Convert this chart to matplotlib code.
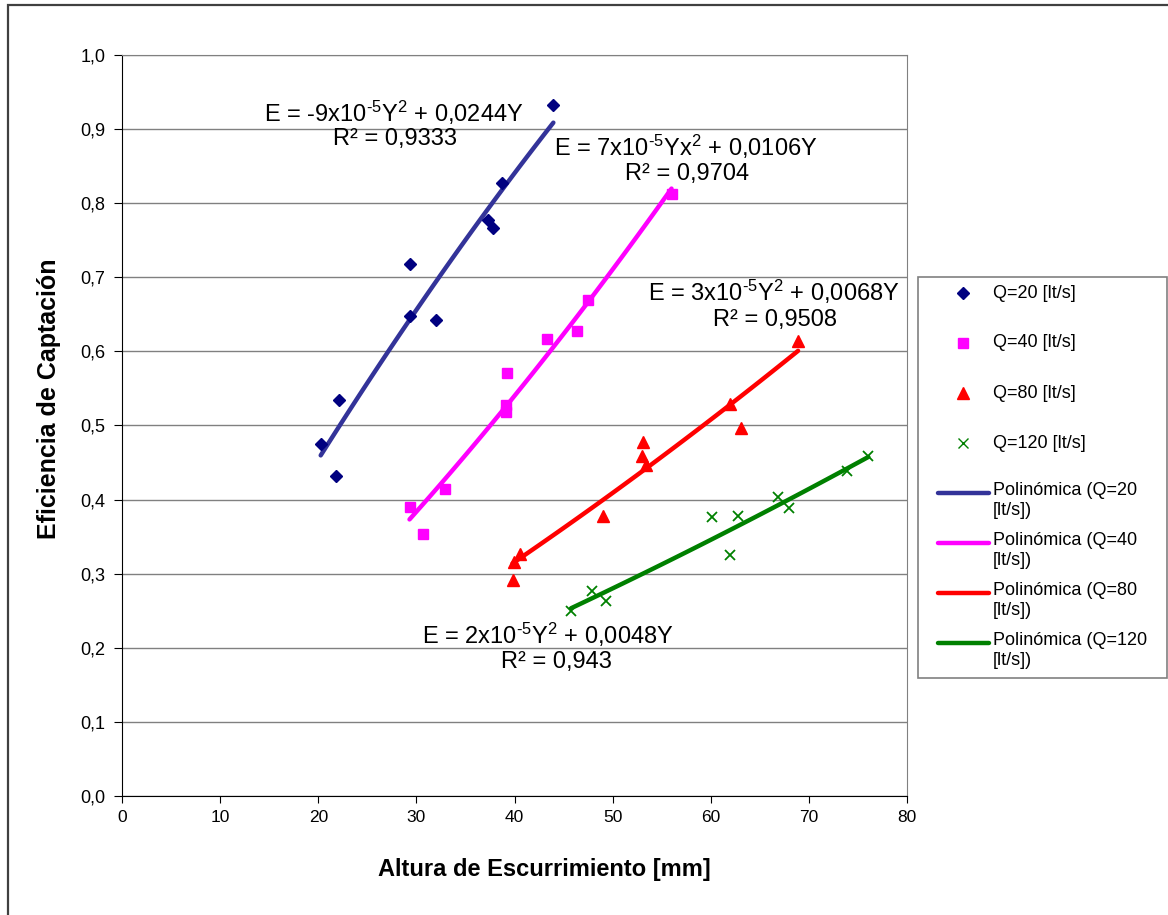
import numpy as np
import matplotlib
matplotlib.use("Agg")
import matplotlib.pyplot as plt
from matplotlib.lines import Line2D
from matplotlib.patches import Rectangle
from matplotlib.ticker import FuncFormatter, MultipleLocator

plt.rcParams['font.family'] = ['Liberation Sans', 'DejaVu Sans']
plt.rcParams['mathtext.fontset'] = 'custom'
plt.rcParams['mathtext.rm'] = 'Liberation Sans'
plt.rcParams['mathtext.default'] = 'regular'

# Altura de escurrimiento [mm] and captation efficiency, per flow
y20 = [20.25, 21.8, 22.15, 29.3, 29.35, 31.97, 37.3, 37.8, 38.7, 43.96]
e20 = [0.475, 0.432, 0.534, 0.718, 0.648, 0.642, 0.777, 0.767, 0.827, 0.932]

y40 = [29.3, 30.7, 32.95, 39.1, 39.1, 39.2, 43.3, 46.4, 47.5, 56.0]
e40 = [0.390, 0.353, 0.414, 0.527, 0.518, 0.571, 0.617, 0.627, 0.670, 0.812]

y80 = [39.8, 39.9, 40.6, 49.05, 53.0, 53.1, 53.4, 62.0, 63.05, 68.9]
e80 = [0.292, 0.316, 0.327, 0.378, 0.459, 0.478, 0.447, 0.529, 0.496, 0.614]

y120 = [45.76, 47.9, 49.3, 60.1, 62.0, 62.8, 66.9, 68.0, 73.85, 76.06]
e120 = [0.249, 0.276, 0.263, 0.377, 0.325, 0.378, 0.404, 0.388, 0.439, 0.459]

series_labels = ["Q=20 [lt/s]", "Q=40 [lt/s]", "Q=80 [lt/s]", "Q=120 [lt/s]"]
trend_labels = ["Polinómica (Q=20\n[lt/s])", "Polinómica (Q=40\n[lt/s])",
                "Polinómica (Q=80\n[lt/s])", "Polinómica (Q=120\n[lt/s])"]
equations = [r"E = -9x10$^{\text{-}5}$Y$^{2}$ + 0,0244Y",
             r"E = 7x10$^{\text{-}5}$Yx$^{2}$ + 0,0106Y",
             r"E = 3x10$^{\text{-}5}$Y$^{2}$ + 0,0068Y",
             r"E = 2x10$^{\text{-}5}$Y$^{2}$ + 0,0048Y"]
r2_texts = ["R² = 0,9333", "R² = 0,9704", "R² = 0,9508", "R² = 0,943"]

# styles
mk_colors = ['#000080', '#FF00FF', '#FF0000', '#008000']
ln_colors = ['#333399', '#FF00FF', '#FF0000', '#008000']
markers = ['D', 's', '^', 'x']
msizes = [6.5, 7.5, 8, 7.5]
eq_pos = [(27.7, 0.922), (57.5, 0.876), (66.4, 0.680), (43.4, 0.217)]
r2_pos = [(27.8, 0.886), (57.6, 0.839), (66.5, 0.642), (44.3, 0.181)]

W, H = 1168, 915
fig = plt.figure(figsize=(W / 100, H / 100), dpi=100)
ax = fig.add_axes([122 / W, 1 - 796 / H, (907 - 122) / W, (796 - 55) / H])

xs_all = [y20, y40, y80, y120]
es_all = [e20, e40, e80, e120]

for i in range(4):
    x = np.array(xs_all[i])
    e = np.array(es_all[i])
    # 2nd order polynomial through origin (as the Excel trendline)
    A = np.column_stack([x ** 2, x])
    coef = np.linalg.lstsq(A, e, rcond=None)[0]
    xx = np.linspace(x.min(), x.max(), 100)
    ax.plot(xx, coef[0] * xx ** 2 + coef[1] * xx, color=ln_colors[i], lw=3.2,
            solid_capstyle='round', zorder=2)
for i in range(4):
    kw = dict(mew=1.3) if markers[i] == 'x' else dict(mec=mk_colors[i])
    ax.plot(xs_all[i], es_all[i], ls='none', marker=markers[i], color=mk_colors[i],
            ms=msizes[i], zorder=3, clip_on=False, **kw)

for i in range(4):
    ax.text(*eq_pos[i], equations[i], ha='center', va='center', fontsize=17)
    ax.text(*r2_pos[i], r2_texts[i], ha='center', va='center', fontsize=17)

ax.set_xlim(0, 80)
ax.set_ylim(0, 1.0)
ax.xaxis.set_major_locator(MultipleLocator(10))
ax.yaxis.set_major_locator(MultipleLocator(0.1))
ax.yaxis.set_major_formatter(FuncFormatter(lambda v, p: f"{v:.1f}".replace('.', ',')))
ax.grid(axis='y', color='#808080', lw=1.0)
ax.set_axisbelow(True)
for s in ['top', 'right']:
    ax.spines[s].set_color('#808080')
for s in ['left', 'bottom']:
    ax.spines[s].set_color('black')
ax.tick_params(axis='y', length=6, labelsize=13, pad=6)
ax.tick_params(axis='x', length=5, labelsize=12.5, pad=5)

ax.set_xlabel("Altura de Escurrimiento [mm]", fontsize=17, fontweight='bold')
ax.xaxis.set_label_coords(0.5376, -0.084)
ax.set_ylabel("Eficiencia de Captación", fontsize=18, fontweight='bold')
ax.yaxis.set_label_coords(-0.078, 0.536)

# outer chart border (cropped at right and bottom)
fig.add_artist(Rectangle((8 / W, -0.2), 2, 1.2 - 5 / H, transform=fig.transFigure,
                         fill=False, ec='#404040', lw=1.6))

# legend box
def fx(px):
    return px / W

def fy(py):
    return 1 - py / H

fig.add_artist(Rectangle((fx(918), fy(678)), fx(1167) - fx(918), fy(277) - fy(678),
                         transform=fig.transFigure, fill=False, ec='#808080', lw=1.2))
for i in range(4):
    yy = 293 + 50 * i
    fig.add_artist(Line2D([fx(963)], [fy(yy)], transform=fig.transFigure, ls='none',
                          marker=markers[i], color=mk_colors[i], ms=msizes[i],
                          mec=mk_colors[i]))
    fig.text(fx(993), fy(yy), series_labels[i], fontsize=13, va='center')
for i in range(4):
    yy = 493 + 50 * i
    fig.add_artist(Line2D([fx(938), fx(989)], [fy(yy), fy(yy)], transform=fig.transFigure,
                          color=ln_colors[i], lw=3.2, solid_capstyle='round'))
    fig.text(fx(993), fy(yy - 11), trend_labels[i], fontsize=13, va='top', linespacing=1.2)

fig.savefig("out.png", dpi=100)
